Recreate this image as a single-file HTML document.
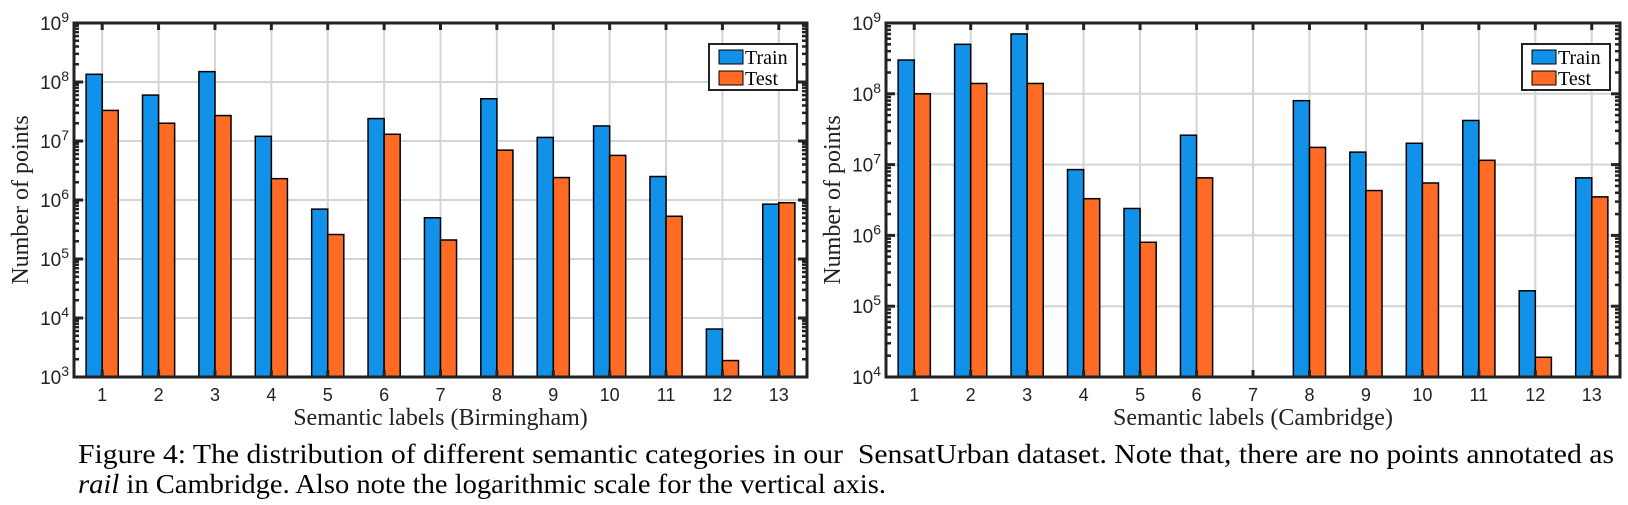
<!DOCTYPE html>
<html><head><meta charset="utf-8">
<style>
html,body{margin:0;padding:0;background:#fff;width:1628px;height:505px;overflow:hidden}
</style></head>
<body>
<svg id="fig" width="1628" height="505" style="position:absolute;left:0;top:0">
<text x="78" y="463" textLength="1536" lengthAdjust="spacingAndGlyphs" font-family="'Liberation Serif',serif" font-size="27" fill="#000">Figure 4: The distribution of different semantic categories in our&#160; SensatUrban dataset. Note that, there are no points annotated as</text>
<text x="78" y="493" textLength="808" lengthAdjust="spacingAndGlyphs" font-family="'Liberation Serif',serif" font-size="27" fill="#000"><tspan font-style="italic">rail</tspan> in Cambridge. Also note the logarithmic scale for the vertical axis.</text>
</svg>
<script>
const categories = [1,2,3,4,5,6,7,8,9,10,11,12,13];
const birTrain = [1.35e8,6e7,1.5e8,1.2e7,7e5,2.4e7,5e5,5.2e7,1.15e7,1.8e7,2.5e6,6.5e3,8.5e5];
const birTest  = [3.3e7,2e7,2.7e7,2.3e6,2.6e5,1.3e7,2.1e5,7e6,2.4e6,5.7e6,5.3e5,1.9e3,9e5];
const camTrain = [3e8,5e8,7e8,8.5e6,2.4e6,2.6e7,0,8e7,1.5e7,2e7,4.2e7,1.65e5,6.5e6];
const camTest  = [1e8,1.4e8,1.4e8,3.3e6,8e5,6.5e6,0,1.75e7,4.3e6,5.5e6,1.15e7,1.9e4,3.5e6];
const birExps = [3,4,5,6,7,8,9];
const camExps = [4,5,6,7,8,9];

const NS='http://www.w3.org/2000/svg';
const svg=document.getElementById('fig');
function mk(tag,attrs,parent){const e=document.createElementNS(NS,tag);for(const k in attrs)e.setAttribute(k,attrs[k]);(parent||svg).appendChild(e);return e;}

function chart(id,L,R,T,B,exps,train,test,xlabel,legX){
  const g=mk('g',{});
  
  
  const lo=exps[0],hi=exps[exps.length-1];
  const n=categories.length;
  const xs=c=>L+(c-0.5)*(R-L)/n;
  const ys=v=>B-(Math.log10(v)-lo)/(hi-lo)*(B-T);
  const step=(R-L)/n, bw=step*0.285;
  categories.forEach(c=>{const l=mk('line',{x1:xs(c),x2:xs(c),y1:T,y2:B,stroke:'#d4d4d4','stroke-width':2},g);
    });
  exps.forEach(e=>{const l=mk('line',{x1:L,x2:R,y1:ys(Math.pow(10,e)),y2:ys(Math.pow(10,e)),stroke:'#d4d4d4','stroke-width':2},g);
    });
  categories.forEach((c,i)=>{
    [[train[i],'#1192e8',-bw,'train'],[test[i],'#ff6a25',0,'test']].forEach(([v,col,off,nm])=>{
      if(!(v>0))return;
      const y=ys(v);
      const r=mk('rect',{x:xs(c)+off,y:y,width:bw,height:B-y,fill:col,stroke:'#000','stroke-width':1.5},g);
      
      
    });
  });
  const bx=mk('rect',{x:L,y:T,width:R-L,height:B-T,fill:'none',stroke:'#222','stroke-width':3},g);
  
  categories.forEach(c=>{
    mk('line',{x1:xs(c),x2:xs(c),y1:B,y2:B-7,stroke:'#222','stroke-width':3},g);
    mk('line',{x1:xs(c),x2:xs(c),y1:T,y2:T+7,stroke:'#222','stroke-width':3},g);
    const t=mk('text',{x:xs(c),y:B+24,'text-anchor':'middle','font-family':'Liberation Sans,sans-serif','font-size':18,fill:'#222'},g);
    t.textContent=c;
  });
  exps.forEach((e,k)=>{
    const y=ys(Math.pow(10,e));
    mk('line',{x1:L,x2:L+9,y1:y,y2:y,stroke:'#222','stroke-width':3},g);
    mk('line',{x1:R,x2:R-9,y1:y,y2:y,stroke:'#222','stroke-width':3},g);
    if(k<exps.length-1){for(let m=2;m<=9;m++){const ym=ys(m*Math.pow(10,e));
      mk('line',{x1:L,x2:L+5,y1:ym,y2:ym,stroke:'#222','stroke-width':2.5},g);
      mk('line',{x1:R,x2:R-5,y1:ym,y2:ym,stroke:'#222','stroke-width':2.5},g);}}
    const t=mk('text',{x:L-5,y:y+7,'text-anchor':'end','font-family':'Liberation Sans,sans-serif','font-size':19,fill:'#222'},g);
    
    t.textContent='10';const s=mk('tspan',{dy:-8,'font-size':14},t);s.textContent=e;
  });
  const xl=mk('text',{x:(L+R)/2,y:B+48,'text-anchor':'middle','font-family':'Liberation Serif,serif','font-size':24,fill:'#222'},g);
  xl.textContent=xlabel;
  const yl=mk('text',{x:0,y:0,'text-anchor':'middle','font-family':'Liberation Serif,serif','font-size':24,fill:'#222',transform:`translate(${L-46},${(T+B)/2}) rotate(-90)`},g);
  yl.textContent='Number of points';
  const lg=mk('g',{},g);
  mk('rect',{x:legX,y:44,width:88,height:46,fill:'#fff',stroke:'#222','stroke-width':2},lg);
  [['Train','#1192e8',50],['Test','#ff6a25',71]].forEach(([nm,col,y])=>{
    mk('rect',{x:legX+10,y:y,width:24,height:14,fill:col,stroke:'#000','stroke-width':1},lg);
    const t=mk('text',{x:legX+36,y:y+14,'font-family':'Liberation Serif,serif','font-size':20,fill:'#000'},lg);
    t.textContent=nm;
  });
}
chart('chart-birmingham',74,807,23,377,birExps,birTrain,birTest,'Semantic labels (Birmingham)',709);
chart('chart-cambridge',886,1620,23,377,camExps,camTrain,camTest,'Semantic labels (Cambridge)',1522);
</script>
</body></html>
